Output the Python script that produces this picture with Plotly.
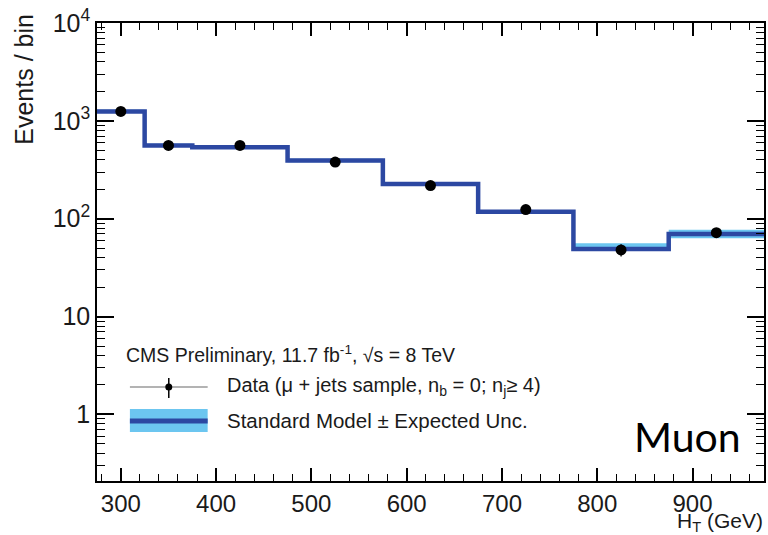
import plotly.graph_objects as go

# ---- data ----
bin_edges = [275, 325, 375, 475, 575, 675, 775, 875, 975]
sm_values = [1250, 561, 538, 394, 227, 118, 49, 70]
sm_upper = [1300, 585, 560, 410, 236, 123, 56, 77]
sm_lower = [1200, 540, 518, 378, 218, 113, 47, 63]
data_x = [300, 350, 425, 525, 625, 725, 825, 925]
data_y = [1250, 561, 561, 379, 218, 124, 48, 72]
data_err = [35, 24, 24, 19, 15, 11, 7, 8.5]

x_tickvals = [300, 400, 500, 600, 700, 800, 900]
x_ticktext = ["300", "400", "500", "600", "700", "800", "900"]
y_tickvals = [1, 10, 100, 1000, 10000]
y_ticktext = ["1", "10", "10<sup>2</sup>", "10<sup>3</sup>", "10<sup>4</sup>"]
y_minor = [m * 10 ** e for e in range(-1, 4) for m in range(2, 10)]

W, H = 768, 535
L, R, T, B = 97, 2, 23, 54
PW, PH = W - L - R, H - T - B


def px(x):
    return (x - L) / PW


def py(y):
    return (H - B - y) / PH


SM_LINE = "#2c48a2"
SM_BAND = "#6cc6f0"
TXT = "#1a1a1a"
FONT = "Liberation Sans, Arial, sans-serif"

step_x = bin_edges
fig = go.Figure()
fig.add_trace(go.Scatter(x=step_x, y=sm_upper + [sm_upper[-1]], mode="lines",
                         line=dict(shape="hv", width=0, color=SM_BAND),
                         showlegend=False, hoverinfo="skip"))
fig.add_trace(go.Scatter(x=step_x, y=sm_lower + [sm_lower[-1]], mode="lines",
                         line=dict(shape="hv", width=0, color=SM_BAND),
                         fill="tonexty", fillcolor=SM_BAND,
                         showlegend=False, hoverinfo="skip"))
fig.add_trace(go.Scatter(x=step_x, y=sm_values + [sm_values[-1]], mode="lines",
                         line=dict(shape="hv", width=4.5, color=SM_LINE),
                         showlegend=False))
fig.add_trace(go.Scatter(x=data_x, y=data_y, mode="markers",
                         marker=dict(color="black", size=11),
                         error_y=dict(type="data", array=data_err, color="black",
                                      thickness=1.2, width=0),
                         showlegend=False))

# ---- legend (drawn in paper coordinates) ----
shapes = []
shapes.append(dict(type="line", xref="paper", yref="paper",
                   x0=px(130), x1=px(208), y0=py(387), y1=py(387),
                   line=dict(color="#9a9a9a", width=1.5)))
shapes.append(dict(type="line", xref="paper", yref="paper",
                   x0=px(169), x1=px(169), y0=py(378), y1=py(398),
                   line=dict(color="black", width=1.5)))
shapes.append(dict(type="circle", xref="paper", yref="paper",
                   x0=px(165.5), x1=px(172.5), y0=py(383.5), y1=py(390.5),
                   fillcolor="black", line=dict(color="black", width=0)))
shapes.append(dict(type="rect", xref="paper", yref="paper",
                   x0=px(130), x1=px(208), y0=py(409), y1=py(432),
                   fillcolor=SM_BAND, line=dict(width=0)))
shapes.append(dict(type="line", xref="paper", yref="paper",
                   x0=px(130), x1=px(208), y0=py(421), y1=py(421),
                   line=dict(color=SM_LINE, width=5)))

annotations = [
    dict(text="CMS Preliminary, 11.7 fb<sup>-1</sup>, √s = 8 TeV",
         x=px(124), y=py(354), xref="paper", yref="paper",
         xanchor="left", yanchor="middle", showarrow=False,
         font=dict(family=FONT, size=19.5, color=TXT)),
    dict(text="Data (μ + jets sample, n<sub>b</sub> = 0; n<sub>j</sub>≥ 4)",
         x=px(225), y=py(386), xref="paper", yref="paper",
         xanchor="left", yanchor="middle", showarrow=False,
         font=dict(family=FONT, size=20, color=TXT)),
    dict(text="Standard Model ± Expected Unc.",
         x=px(225), y=py(420), xref="paper", yref="paper",
         xanchor="left", yanchor="middle", showarrow=False,
         font=dict(family=FONT, size=20.5, color=TXT)),
    dict(text="Muon", x=px(745), y=py(436), xref="paper", yref="paper",
         xanchor="right", yanchor="middle", showarrow=False,
         font=dict(family="Lato, Open Sans, sans-serif", size=41, color="black")),
    dict(text="H<sub>T</sub> (GeV)", x=px(767), y=py(522), xref="paper", yref="paper",
         xanchor="right", yanchor="middle", showarrow=False,
         font=dict(family=FONT, size=21, color=TXT)),
    dict(text="Events / bin", x=px(23), y=py(12), xref="paper", yref="paper",
         xanchor="center", yanchor="top", textangle=-90, showarrow=False,
         font=dict(family=FONT, size=25, color=TXT)),
]

fig.update_layout(
    width=W, height=H,
    margin=dict(l=L, r=R, t=T, b=B, pad=0),
    paper_bgcolor="white", plot_bgcolor="white",
    shapes=shapes, annotations=annotations,
    showlegend=False,
    font=dict(family=FONT, color=TXT),
)
fig.update_xaxes(
    range=[275, 975], showgrid=False, zeroline=False,
    showline=True, linecolor="black", linewidth=1.5, mirror="ticks",
    ticks="inside", ticklen=13, tickwidth=1.5, tickcolor="black",
    tickmode="array", tickvals=x_tickvals, ticktext=x_ticktext,
    tickfont=dict(family=FONT, size=24, color=TXT),
    minor=dict(ticks="inside", ticklen=7, tickwidth=1.2, tickcolor="black",
               dtick=20, tick0=0, showgrid=False),
)
fig.update_yaxes(
    type="log", range=[-0.68, 4], showgrid=False, zeroline=False,
    showline=True, linecolor="black", linewidth=1.5, mirror="ticks",
    ticks="inside", ticklen=17, tickwidth=1.5, tickcolor="black",
    tickmode="array", tickvals=y_tickvals, ticktext=y_ticktext,
    tickfont=dict(family=FONT, size=25, color=TXT),
    minor=dict(ticks="inside", ticklen=8, tickwidth=1.2, tickcolor="black",
               tickmode="array", tickvals=y_minor, showgrid=False),
)

fig.write_html("out.html", config={"displayModeBar": False},
               post_script="document.body.style.margin='0';document.body.style.padding='0';")
